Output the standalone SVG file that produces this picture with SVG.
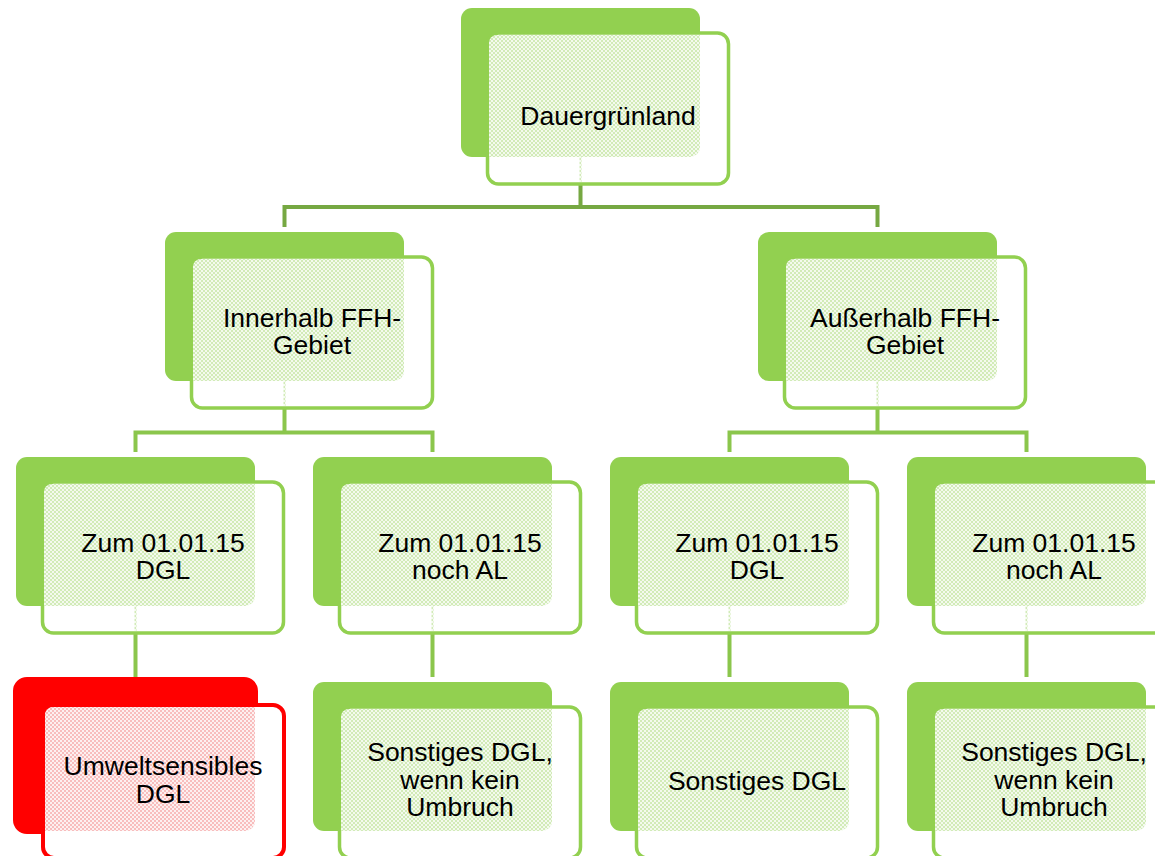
<svg xmlns="http://www.w3.org/2000/svg" width="1155" height="856" viewBox="0 0 1155 856">
<defs>
<pattern id="pg" width="4" height="4" patternUnits="userSpaceOnUse">
<rect x="0" y="0" width="4" height="4" fill="#F4FAEE"/>
<rect x="0" y="0" width="2" height="2" fill="#D2EBB8"/>
<rect x="2" y="2" width="2" height="2" fill="#D2EBB8"/>
</pattern>
<pattern id="pr" width="4" height="4" patternUnits="userSpaceOnUse">
<rect x="0" y="0" width="4" height="4" fill="#FDF0F0"/>
<rect x="0" y="0" width="2" height="2" fill="#F8BDBD"/>
<rect x="2" y="2" width="2" height="2" fill="#F8BDBD"/>
</pattern>
</defs>
<style>
.back{fill:#92D050;}
.front{fill:#FFFFFF;stroke:#92D050;stroke-width:3.5;}
.pat{fill:url(#pg);}
.backr{fill:#FF0000;stroke:#FF0000;stroke-width:6;}
.frontr{fill:#FFFFFF;stroke:#FF0000;stroke-width:4;}
.patr{fill:url(#pr);}
.t{font-family:"Liberation Sans",Arial,sans-serif;font-size:26.5px;fill:#000000;text-anchor:middle;}
.c1{fill:none;stroke:#76A842;stroke-width:4;}
.c2{fill:none;stroke:#8BC64C;stroke-width:4;}
</style>
<rect width="1155" height="856" fill="#FFFFFF"/>
<g id="connectors">
<path class="c1" d="M580.5 185 V207 M284.5 207 H877.5 M284.5 205 V227 M877.5 205 V227"/>
<path class="c2" d="M284.5 409 V432.5 M135.5 432.5 H432.5 M135.5 430.5 V452 M432.5 430.5 V452"/>
<path class="c2" d="M877.5 409 V432.5 M729.5 432.5 H1026.5 M729.5 430.5 V452 M1026.5 430.5 V452"/>
<path class="c2" d="M135.5 634 V677 M432.5 634 V677 M729.5 634 V677 M1026.5 634 V677"/>
</g>
<g id="n-dauergruenland" transform="translate(461,8)">
<rect class="back" x="0" y="0" width="239" height="149" rx="11"/>
<rect class="front" x="26.5" y="25" width="241" height="151" rx="11"/>
<path class="pat" d="M28 35 A8 8 0 0 1 36 27 H239 V139 A10 10 0 0 1 229 149 H28 Z"/>
<rect class="pat" x="118.5" y="149" width="2" height="25"/>
<text class="t" x="147" y="116.5">Dauergrünland</text>
</g>
<g id="n-innerhalb" transform="translate(165,232)">
<rect class="back" x="0" y="0" width="239" height="149" rx="11"/>
<rect class="front" x="26.5" y="25" width="241" height="151" rx="11"/>
<path class="pat" d="M28 35 A8 8 0 0 1 36 27 H239 V139 A10 10 0 0 1 229 149 H28 Z"/>
<rect class="pat" x="118.5" y="149" width="2" height="25"/>
<text class="t" x="147" y="95">Innerhalb FFH-<tspan x="147" dy="26.5">Gebiet</tspan></text>
</g>
<g id="n-ausserhalb" transform="translate(758,232)">
<rect class="back" x="0" y="0" width="239" height="149" rx="11"/>
<rect class="front" x="26.5" y="25" width="241" height="151" rx="11"/>
<path class="pat" d="M28 35 A8 8 0 0 1 36 27 H239 V139 A10 10 0 0 1 229 149 H28 Z"/>
<rect class="pat" x="118.5" y="149" width="2" height="25"/>
<text class="t" x="147" y="95">Außerhalb FFH-<tspan x="147" dy="26.5">Gebiet</tspan></text>
</g>
<g id="n-inner-dgl" transform="translate(16,457)">
<rect class="back" x="0" y="0" width="239" height="149" rx="11"/>
<rect class="front" x="26.5" y="25" width="241" height="151" rx="11"/>
<path class="pat" d="M28 35 A8 8 0 0 1 36 27 H239 V139 A10 10 0 0 1 229 149 H28 Z"/>
<rect class="pat" x="118.5" y="149" width="2" height="25"/>
<text class="t" x="147" y="95">Zum 01.01.15<tspan x="147" dy="26.5">DGL</tspan></text>
</g>
<g id="n-inner-al" transform="translate(313,457)">
<rect class="back" x="0" y="0" width="239" height="149" rx="11"/>
<rect class="front" x="26.5" y="25" width="241" height="151" rx="11"/>
<path class="pat" d="M28 35 A8 8 0 0 1 36 27 H239 V139 A10 10 0 0 1 229 149 H28 Z"/>
<rect class="pat" x="118.5" y="149" width="2" height="25"/>
<text class="t" x="147" y="95">Zum 01.01.15<tspan x="147" dy="26.5">noch AL</tspan></text>
</g>
<g id="n-ausser-dgl" transform="translate(610,457)">
<rect class="back" x="0" y="0" width="239" height="149" rx="11"/>
<rect class="front" x="26.5" y="25" width="241" height="151" rx="11"/>
<path class="pat" d="M28 35 A8 8 0 0 1 36 27 H239 V139 A10 10 0 0 1 229 149 H28 Z"/>
<rect class="pat" x="118.5" y="149" width="2" height="25"/>
<text class="t" x="147" y="95">Zum 01.01.15<tspan x="147" dy="26.5">DGL</tspan></text>
</g>
<g id="n-ausser-al" transform="translate(907,457)">
<rect class="back" x="0" y="0" width="239" height="149" rx="11"/>
<rect class="front" x="26.5" y="25" width="241" height="151" rx="11"/>
<path class="pat" d="M28 35 A8 8 0 0 1 36 27 H239 V139 A10 10 0 0 1 229 149 H28 Z"/>
<rect class="pat" x="118.5" y="149" width="2" height="25"/>
<text class="t" x="147" y="95">Zum 01.01.15<tspan x="147" dy="26.5">noch AL</tspan></text>
</g>
<g id="n-umweltsensibel" transform="translate(16,682)">
<rect class="backr" x="0" y="-2" width="239" height="151" rx="11"/>
<rect class="frontr" x="27" y="23" width="241" height="153" rx="11"/>
<path class="patr" d="M29 33 A8 8 0 0 1 37 25 H239 V139 A10 10 0 0 1 229 149 H29 Z"/>
<text class="t" x="147" y="93">Umweltsensibles<tspan x="147" dy="28">DGL</tspan></text>
</g>
<g id="n-sonstiges-1" transform="translate(313,682)">
<rect class="back" x="0" y="0" width="239" height="149" rx="11"/>
<rect class="front" x="26.5" y="25" width="241" height="151" rx="11"/>
<path class="pat" d="M28 35 A8 8 0 0 1 36 27 H239 V139 A10 10 0 0 1 229 149 H28 Z"/>
<text class="t" x="147" y="79">Sonstiges DGL,<tspan x="147" dy="27.5">wenn kein</tspan><tspan x="147" dy="27.5">Umbruch</tspan></text>
</g>
<g id="n-sonstiges-2" transform="translate(610,682)">
<rect class="back" x="0" y="0" width="239" height="149" rx="11"/>
<rect class="front" x="26.5" y="25" width="241" height="151" rx="11"/>
<path class="pat" d="M28 35 A8 8 0 0 1 36 27 H239 V139 A10 10 0 0 1 229 149 H28 Z"/>
<text class="t" x="147" y="108">Sonstiges DGL</text>
</g>
<g id="n-sonstiges-3" transform="translate(907,682)">
<rect class="back" x="0" y="0" width="239" height="149" rx="11"/>
<rect class="front" x="26.5" y="25" width="241" height="151" rx="11"/>
<path class="pat" d="M28 35 A8 8 0 0 1 36 27 H239 V139 A10 10 0 0 1 229 149 H28 Z"/>
<text class="t" x="147" y="79">Sonstiges DGL,<tspan x="147" dy="27.5">wenn kein</tspan><tspan x="147" dy="27.5">Umbruch</tspan></text>
</g>
</svg>
